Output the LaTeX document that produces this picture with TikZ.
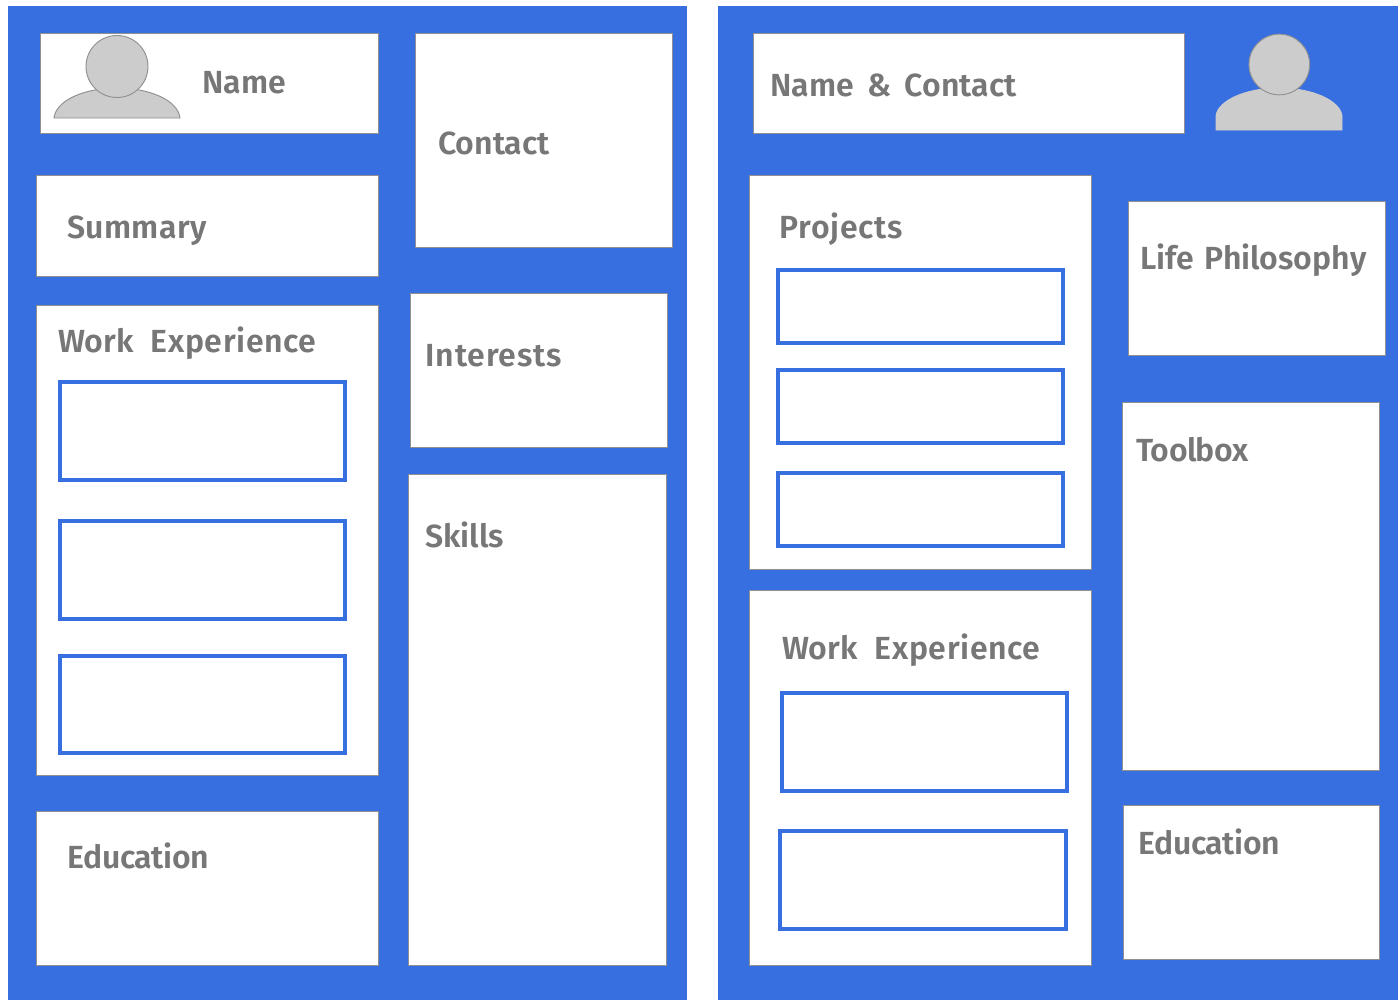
\documentclass[tikz,border=0pt]{standalone}
\usepackage{fontspec}
\setmainfont[BoldFont={Fira Sans SemiBold}]{Fira Sans}
\definecolor{panelblue}{HTML}{386FE0}
\definecolor{edgegray}{HTML}{909090}
\definecolor{textgray}{HTML}{777777}
\definecolor{headgray}{HTML}{CCCCCC}
\tikzset{
  panel/.style={fill=panelblue,draw=none,inner sep=0pt},
  card/.style={fill=white,draw=edgegray,line width=.75pt,inner sep=0pt},
  slot/.style={fill=white,draw=panelblue,line width=2.5pt,inner sep=0pt},
  lbl/.style={anchor=base west,inner sep=0pt,text=textgray,font=\fontsize{24}{28}\selectfont\bfseries},
  avatar/.style={fill=headgray,draw=edgegray,line width=.7pt}
}
\newcommand{\bx}[6]{%
  \pgfmathsetmacro{\bxw}{(#4-#2)*0.75}%
  \pgfmathsetmacro{\bxh}{(#5-#3)*0.75}%
  \node[#6,minimum width=\bxw pt,minimum height=\bxh pt] (#1) at ({(#2+#4)/2},{-(#3+#5)/2}) {};%
}
\newcommand{\lsp}[2]{{\addfontfeature{LetterSpace=#1}#2}}
\begin{document}
\begin{tikzpicture}[x=0.75pt,y=0.75pt]
\useasboundingbox (0,0) rectangle (1400,-1004);
\bx{pl}{8}{6}{687}{1000}{panel}
\bx{pr}{718}{6}{1398}{1000}{panel}
% left panel
\bx{lname}{40}{33}{378}{133}{card}
\bx{lsum}{36}{175}{378}{276}{card}
\bx{lwork}{36}{305}{378}{775}{card}
\bx{ledu}{36}{811}{378}{965}{card}
\bx{lcontact}{415}{33}{672}{247}{card}
\bx{lint}{410}{293}{667}{447}{card}
\bx{lskills}{408}{474}{666}{965}{card}
\bx{lw1}{60}{382}{345}{480}{slot}
\bx{lw2}{60}{521}{345}{619}{slot}
\bx{lw3}{60}{656}{345}{753}{slot}
% left avatar
\draw[avatar] (54,-118) .. controls (56,-100) and (85,-88) .. (117,-88) .. controls (149,-88) and (178,-100) .. (180,-118) -- cycle;
\node[avatar,circle,minimum size=46.5pt,inner sep=0pt] (lhead) at (117,-66.5) {};
% right panel
\bx{rname}{753}{33}{1184}{133}{card}
\bx{rproj}{749}{175}{1091}{569}{card}
\bx{rwork}{749}{590}{1091}{965}{card}
\bx{rlife}{1128}{201}{1385}{355}{card}
\bx{rtool}{1122}{402}{1379}{770}{card}
\bx{redu}{1123}{805}{1379}{959}{card}
\bx{rp1}{778}{270}{1063}{343}{slot}
\bx{rp2}{778}{370}{1063}{443}{slot}
\bx{rp3}{778}{473}{1063}{546}{slot}
\bx{rw1}{782}{693}{1067}{791}{slot}
\bx{rw2}{780}{831}{1066}{929}{slot}
% right avatar
\draw[avatar,draw=headgray] (1216,-130) -- (1216,-116) .. controls (1218,-100) and (1247,-88) .. (1279,-88) .. controls (1311,-88) and (1340,-100) .. (1342,-116) -- (1342,-130) -- cycle;
\node[avatar,circle,minimum size=45.5pt,inner sep=0pt] (rhead) at (1279.3,-64.5) {};
% labels
\node[lbl] (tname) at (202,-93) {Name};
\node[lbl] (tcontact) at (438,-154) {Contact};
\node[lbl] (tsum) at (67,-238) {\lsp{1}{Summary}};
\node[lbl] (twork) at (58,-352) {Work\hspace{7pt} \lsp{2}{Experience}};
\node[lbl] (tint) at (425,-366) {\lsp{3}{Interests}};
\node[lbl] (tskills) at (425,-547) {Skills};
\node[lbl] (tedu) at (67,-868) {\lsp{-1}{Education}};
\node[lbl] (tnc) at (770,-96) {Name\hspace{4.5pt} \&\hspace{4pt} Contact};
\node[lbl] (tproj) at (779,-238) {\lsp{2.5}{Projects}};
\node[lbl] (tlife) at (1140,-269) {Life\hspace{2pt} Philosophy};
\node[lbl] (ttool) at (1136,-461) {\lsp{-2}{Toolbox}};
\node[lbl] (twork2) at (782,-659) {Work\hspace{7pt} \lsp{2}{Experience}};
\node[lbl] (tedu2) at (1138,-854) {\lsp{-1}{Education}};
\end{tikzpicture}
\end{document}
